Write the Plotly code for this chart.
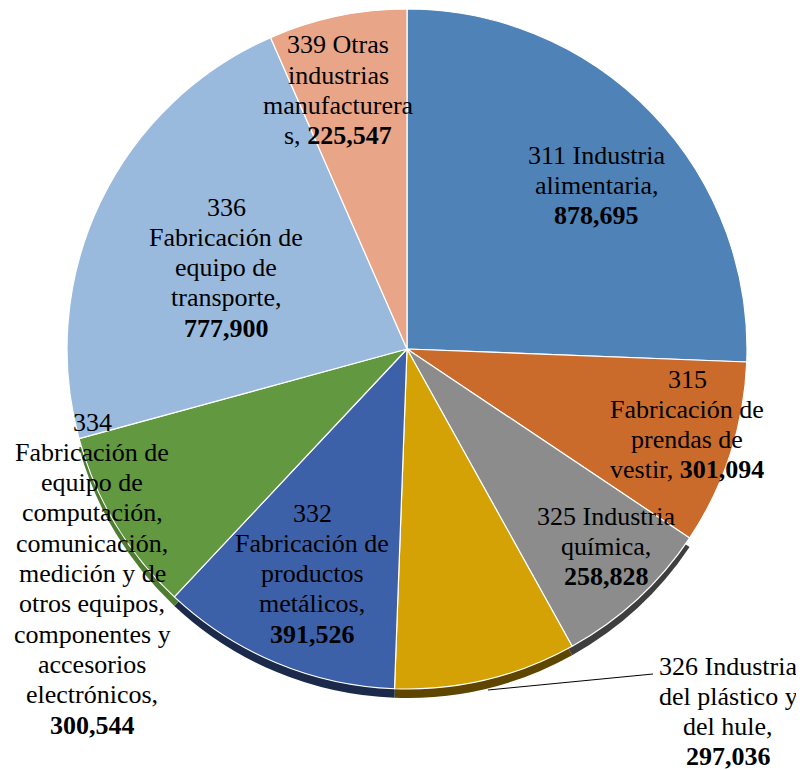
import plotly.graph_objects as go

# ---- data ----
codes = ["311", "315", "325", "326", "332", "334", "336", "339"]
names = [
    "Industria alimentaria",
    "Fabricación de prendas de vestir",
    "Industria química",
    "Industria del plástico y del hule",
    "Fabricación de productos metálicos",
    "Fabricación de equipo de computación, comunicación, medición y de otros equipos, componentes y accesorios electrónicos",
    "Fabricación de equipo de transporte",
    "Otras industrias manufactureras",
]
values = [878695, 301094, 258828, 297036, 391526, 300544, 777900, 225547]
colors = ["#4F83B7", "#CA6B2C", "#8C8C8C", "#D5A205", "#3D61A8", "#62983F", "#9ABADD", "#E9A587"]
shadow_colors = ["rgba(0,0,0,0)", "rgba(0,0,0,0)", "#3E3E3E", "#5E4500", "#1B2A4A", "#4F7C33",
                 "rgba(0,0,0,0)", "rgba(0,0,0,0)"]

def fmt(v):
    return "<b>{:,}</b>".format(v)

label_lines = [
    ["311 Industria", "alimentaria,", fmt(values[0])],
    ["315", "Fabricación de", "prendas de", "vestir, " + fmt(values[1])],
    ["325 Industria", "química,", fmt(values[2])],
    ["326 Industria", "del plástico y", "del hule,", fmt(values[3])],
    ["332", "Fabricación de", "productos", "metálicos,", fmt(values[4])],
    ["334", "Fabricación de", "equipo de", "computación,", "comunicación,", "medición y de",
     "otros equipos,", "componentes y", "accesorios", "electrónicos,", fmt(values[5])],
    ["336", "Fabricación de", "equipo de", "transporte,", fmt(values[6])],
    ["339 Otras", "industrias", "manufacturera", "s, " + fmt(values[7])],
]
# label anchor (center x, first-line y) in screen pixels
label_pos = [(596, 155), (687, 379), (606, 516), (728, 666), (312, 513),
             (92, 422), (226, 207), (338, 45)]
LINE_STEP = 30.3

OFF = 8  # page body margin
W, H = 804 - OFF, 770 - OFF

def px(x, y):
    return (x - OFF) / W, 1 - (y - OFF) / H

cx, cy, r = 407, 349, 340
shadow_dy = 9

x0, _ = px(cx - r, 0)
x1, _ = px(cx + r, 0)
_, ytop = px(0, cy - r)
_, ybot = px(0, cy + r)
ytop = min(ytop, 1.0)

FONT = "Times New Roman, Liberation Serif, DejaVu Serif, serif"

fig = go.Figure()

# depth layer (visible only along the lower rim)
fig.add_trace(go.Pie(
    values=values,
    labels=codes,
    sort=False,
    direction="clockwise",
    rotation=0,
    marker=dict(colors=shadow_colors, line=dict(width=0)),
    textinfo="none",
    hoverinfo="skip",
    domain=dict(x=[x0, x1], y=[ybot - shadow_dy / H, ytop - shadow_dy / H]),
    showlegend=False,
))

fig.add_trace(go.Pie(
    values=values,
    labels=[c + " " + n for c, n in zip(codes, names)],
    sort=False,
    direction="clockwise",
    rotation=0,
    marker=dict(colors=colors, line=dict(color="white", width=1.2)),
    textinfo="none",
    hoverinfo="label+value",
    domain=dict(x=[x0, x1], y=[ybot, ytop]),
    showlegend=False,
))

annotations = []
for lines, (lx, ly) in zip(label_lines, label_pos):
    for i, t in enumerate(lines):
        ax, ay = px(lx, ly + i * LINE_STEP)
        annotations.append(dict(
            x=ax, y=ay, xref="paper", yref="paper",
            text=t, showarrow=False,
            xanchor="center", yanchor="middle",
            font=dict(family=FONT, size=26, color="black"),
        ))

lx0, ly0 = px(488, 690)
lx1, ly1 = px(653, 674)
shapes = [dict(type="line", xref="paper", yref="paper", x0=lx0, y0=ly0, x1=lx1, y1=ly1,
               line=dict(color="black", width=1))]

fig.update_layout(
    width=W, height=H,
    margin=dict(l=0, r=0, t=0, b=0),
    paper_bgcolor="white",
    plot_bgcolor="white",
    font=dict(family=FONT),
    annotations=annotations,
    shapes=shapes,
)

fig.write_html("out.html")
